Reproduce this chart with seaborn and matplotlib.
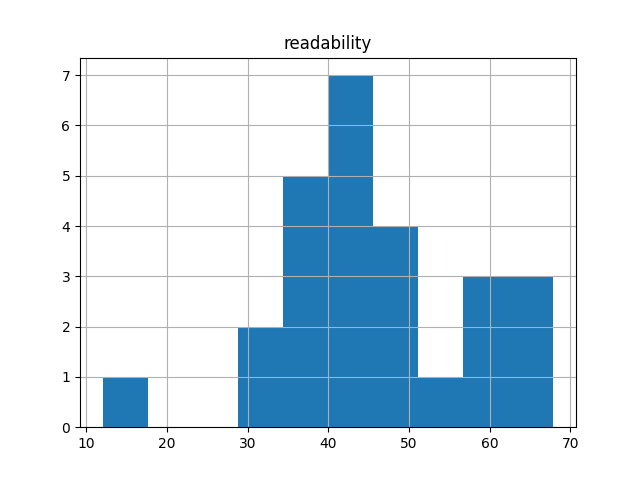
import matplotlib
matplotlib.use('Agg')
import matplotlib.pyplot as plt
import seaborn as sns
import numpy as np
import pandas as pd

# Histogram of "readability": bin range and counts per bin (10 bins)
bin_min = 12.0
bin_max = 67.9
counts = [1, 0, 0, 2, 5, 7, 4, 1, 3, 3]
title = "readability"

edges = np.linspace(bin_min, bin_max, len(counts) + 1)
centers = (edges[:-1] + edges[1:]) / 2
df = pd.DataFrame({"readability": centers, "count": counts})

fig, ax = plt.subplots(figsize=(6.4, 4.8), dpi=100)
sns.histplot(data=df, x="readability", weights="count", bins=list(edges), ax=ax,
             color='#1f77b4', alpha=1.0, linewidth=0)
ax.grid(True)
ax.set_title(title)
ax.set_xlabel('')
ax.set_ylabel('')
fig.savefig('out.png', dpi=100)
